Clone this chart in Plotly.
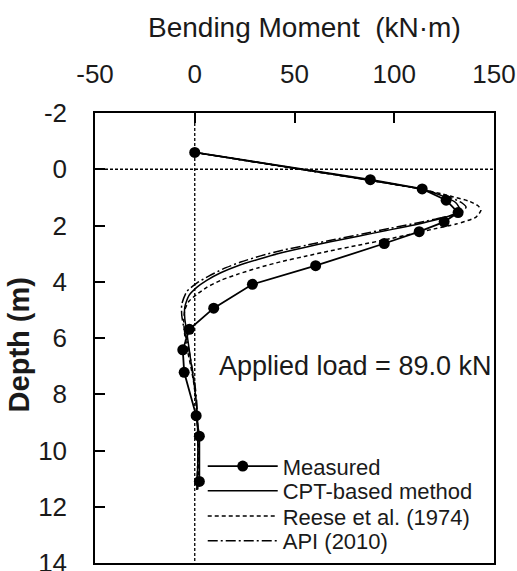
import plotly.graph_objects as go

# ---- data ----
measured_depth = [-0.6, 0.37, 0.70, 1.10, 1.54, 1.87, 2.22, 2.64, 3.43, 4.09, 4.94, 5.69, 6.42, 7.22, 8.76, 9.49, 11.10]
measured_moment = [0, 88, 114, 126, 132, 125, 112.5, 95, 60.6, 28.9, 9.5, -2.7, -6.0, -5.3, 0.7, 2.3, 2.3]

cpt_depth = [-0.6, 0.0, 0.37, 0.7, 1.0, 1.2, 1.45, 1.6, 1.78, 1.98, 2.18, 2.38, 2.58, 2.78, 2.98, 3.2, 3.42, 3.68, 3.95, 4.2, 4.5, 4.9, 5.3, 5.8, 6.3, 6.8, 7.3, 7.8, 8.5, 9.5, 10.5, 11.4]
cpt_moment = [0, 53, 86, 113, 126, 131, 133, 130, 122, 110, 96, 82, 68, 55, 43, 32, 22, 13, 6, 1, -3, -5, -5, -4, -3, -2, -1, 0, 1, 1.5, 1.5, 1]

reese_depth = [-0.6, 0.0, 0.37, 0.7, 0.95, 1.15, 1.3, 1.45, 1.7, 1.95, 2.12, 2.28, 2.5, 2.7, 2.9, 3.1, 3.29, 3.5, 3.72, 3.95, 4.2, 4.45, 4.7, 5.0, 5.4, 5.9, 6.5, 7.0, 7.6, 8.2, 9.2, 10.2, 11.4]
reese_moment = [0, 53, 86, 113, 128, 138, 142, 143.5, 141, 131, 120, 110, 96, 82, 68, 55, 43, 32, 22, 13, 6, 1, -3, -5, -5.5, -5, -3.5, -2, -0.5, 0.5, 1.5, 2, 1.5]

api_depth = [-0.6, 0.0, 0.37, 0.7, 1.0, 1.2, 1.35, 1.55, 1.72, 1.9, 2.1, 2.3, 2.5, 2.7, 2.88, 3.08, 3.3, 3.55, 3.8, 4.05, 4.35, 4.8, 5.2, 5.8, 6.4, 7.0, 7.6, 8.3, 9.3, 10.3, 11.4]
api_moment = [0, 53, 86, 113, 128, 134, 136, 133, 124, 112, 98, 84, 70, 56, 44, 33, 23, 14, 7, 1, -4, -6.5, -6.5, -5, -3, -1.5, 0, 1, 1.5, 1.5, 1]

x_ticks = [-50, 0, 50, 100, 150]
y_ticks = [-2, 0, 2, 4, 6, 8, 10, 12, 14]

FONT = "Liberation Sans, Arial, sans-serif"
TXT = "#1a1a1a"

fig = go.Figure()
fig.add_trace(go.Scatter(x=measured_moment, y=measured_depth, mode="lines+markers",
                         name="Measured", legend="legend",
                         line=dict(color="black", width=1.8),
                         marker=dict(color="black", size=11)))
fig.add_trace(go.Scatter(x=cpt_moment, y=cpt_depth, mode="lines", name="CPT-based method",
                         legend="legend2",
                         line=dict(color="black", width=1.5, shape="spline", smoothing=0.6)))
fig.add_trace(go.Scatter(x=reese_moment, y=reese_depth, mode="lines", name="Reese et al. (1974)",
                         legend="legend3",
                         line=dict(color="black", width=1.5, dash="4px,3px", shape="spline", smoothing=0.6)))
fig.add_trace(go.Scatter(x=api_moment, y=api_depth, mode="lines", name="API (2010)",
                         legend="legend4",
                         line=dict(color="black", width=1.5, dash="10px,3px,2px,3px", shape="spline", smoothing=0.6)))

# zero reference lines
fig.add_shape(type="line", xref="x", yref="y", x0=0, x1=0, y0=-2, y1=14,
              line=dict(color="black", width=1.3, dash="3px,2px"), layer="below")
fig.add_shape(type="line", xref="x", yref="y", x0=-50, x1=150, y0=0, y1=0,
              line=dict(color="black", width=1.3, dash="3px,2px"), layer="below")

fig.add_annotation(x=11.3, y=7.0, xref="x", yref="y", text="Applied load = 89.0 kN",
                   showarrow=False, xanchor="left", yanchor="middle",
                   font=dict(family=FONT, size=27, color=TXT))

# axis titles placed as annotations for exact positioning
fig.add_annotation(x=0.526, y=1.191, xref="paper", yref="paper", text="Bending Moment  (kN·m)",
                   showarrow=False, xanchor="center", yanchor="middle",
                   font=dict(family=FONT, size=28, color=TXT))
fig.add_annotation(x=-0.19, y=0.484, xref="paper", yref="paper", text="<b>Depth (m)</b>",
                   showarrow=False, xanchor="center", yanchor="middle", textangle=-90,
                   font=dict(family=FONT, size=29, color=TXT))

fig.update_xaxes(side="top", range=[-50, 150], tickvals=x_ticks, ticktext=[str(v) for v in x_ticks],
                 ticks="inside", ticklen=10, tickwidth=1.5, tickcolor="black",
                 showline=True, linecolor="black", linewidth=1.5, mirror=True,
                 showgrid=False, zeroline=False, ticklabelstandoff=18, ticklabeloverflow="allow",
                 automargin=False,
                 tickfont=dict(family=FONT, size=26, color=TXT))
fig.update_yaxes(range=[14, -2], tickvals=y_ticks, ticktext=[str(v) for v in y_ticks],
                 ticks="inside", ticklen=10, tickwidth=1.5, tickcolor="black",
                 showline=True, linecolor="black", linewidth=1.5, mirror=True,
                 showgrid=False, zeroline=False, ticklabelstandoff=21, ticklabeloverflow="allow",
                 automargin=False,
                 tickfont=dict(family=FONT, size=26, color=TXT))

leg_common = dict(x=0.27, xanchor="left", yanchor="middle", bgcolor="rgba(0,0,0,0)",
                  borderwidth=0, itemwidth=70, font=dict(family=FONT, size=22, color=TXT))
fig.update_layout(width=517, height=571, margin=dict(l=95, r=23, t=113, b=8, autoexpand=False),
                  paper_bgcolor="white", plot_bgcolor="white",
                  showlegend=True,
                  legend=dict(y=0.215, **leg_common),
                  legend2=dict(y=0.160, **leg_common),
                  legend3=dict(y=0.104, **leg_common),
                  legend4=dict(y=0.049, **leg_common))

fig.write_html("out.html")
